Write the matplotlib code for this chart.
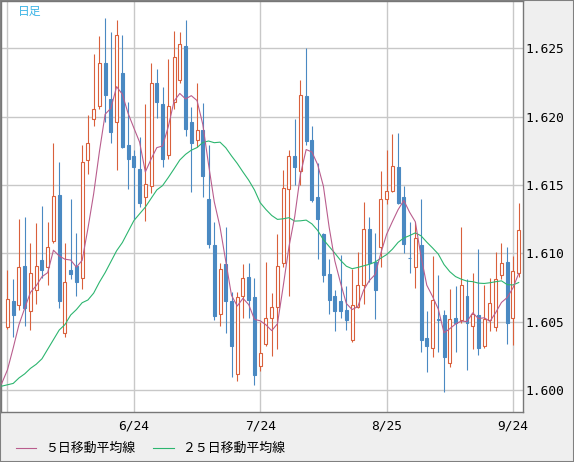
import numpy as np
import matplotlib
matplotlib.use("Agg")
import matplotlib.pyplot as plt
from matplotlib.lines import Line2D
from matplotlib.patches import Rectangle

# daily candles (open, high, low, close)
opens = [
    1.6046, 1.6065, 1.6062, 1.6091, 1.6058, 1.6073, 1.6095, 1.6090, 1.6109, 1.6143,
    1.6042, 1.6088, 1.6091, 1.6082, 1.6168, 1.6198, 1.6208, 1.6239, 1.6213, 1.6196,
    1.6232, 1.6179, 1.6171, 1.6162, 1.6141, 1.6149, 1.6225, 1.6209, 1.6172, 1.6211,
    1.6227, 1.6252, 1.6196, 1.6183, 1.6190, 1.6140, 1.6106, 1.6056, 1.6092, 1.6065,
    1.6012, 1.6069, 1.6083, 1.6068, 1.6018, 1.6034, 1.6053, 1.6061, 1.6093, 1.6147,
    1.6171, 1.6160, 1.6215, 1.6183, 1.6141, 1.6114, 1.6085, 1.6069, 1.6065, 1.6059,
    1.6037, 1.6061, 1.6077, 1.6118, 1.6094, 1.6105, 1.6140, 1.6146, 1.6163, 1.6141,
    1.6097, 1.6090, 1.6106, 1.6038, 1.6031, 1.6052, 1.6055, 1.6020, 1.6053, 1.6051,
    1.6069, 1.6047, 1.6055, 1.6032, 1.6051, 1.6046, 1.6084, 1.6094, 1.6053, 1.6086,
]
highs = [
    1.6088, 1.6081, 1.6125, 1.6127, 1.6108, 1.6122, 1.6135, 1.6123, 1.6181, 1.6167,
    1.6108, 1.6140, 1.6115, 1.6179, 1.6201, 1.6246, 1.6259, 1.6272, 1.6262, 1.6271,
    1.6260, 1.6211, 1.6176, 1.6185, 1.6209, 1.6239, 1.6235, 1.6222, 1.6242, 1.6263,
    1.6262, 1.6271, 1.6207, 1.6225, 1.6210, 1.6179, 1.6123, 1.6093, 1.6119, 1.6072,
    1.6072, 1.6092, 1.6093, 1.6082, 1.6050, 1.6094, 1.6071, 1.6114, 1.6161, 1.6176,
    1.6198, 1.6227, 1.6250, 1.6193, 1.6166, 1.6115, 1.6096, 1.6073, 1.6099, 1.6076,
    1.6089, 1.6101, 1.6138, 1.6127, 1.6115, 1.6160, 1.6176, 1.6187, 1.6188, 1.6149,
    1.6123, 1.6123, 1.6140, 1.6058, 1.6098, 1.6084, 1.6059, 1.6074, 1.6076, 1.6119,
    1.6081, 1.6086, 1.6103, 1.6077, 1.6082, 1.6101, 1.6108, 1.6105, 1.6098, 1.6137,
]
lows = [
    1.6045, 1.6039, 1.6059, 1.6047, 1.6044, 1.6063, 1.6082, 1.6077, 1.6108, 1.6060,
    1.6039, 1.6081, 1.6069, 1.6074, 1.6158, 1.6193, 1.6206, 1.6196, 1.6181, 1.6161,
    1.6177, 1.6147, 1.6125, 1.6134, 1.6124, 1.6144, 1.6199, 1.6163, 1.6169, 1.6206,
    1.6225, 1.6186, 1.6145, 1.6178, 1.6141, 1.6104, 1.6051, 1.6047, 1.6042, 1.6010,
    1.6007, 1.6053, 1.6053, 1.6004, 1.6014, 1.6032, 1.6025, 1.6030, 1.6090, 1.6069,
    1.6150, 1.6150, 1.6179, 1.6138, 1.6096, 1.6079, 1.6056, 1.6043, 1.6053, 1.6044,
    1.6035, 1.6060, 1.6063, 1.6079, 1.6052, 1.6090, 1.6136, 1.6145, 1.6136, 1.6100,
    1.6086, 1.6075, 1.6028, 1.6013, 1.6024, 1.6028, 1.5999, 1.6017, 1.6028, 1.6049,
    1.6015, 1.6030, 1.6026, 1.6031, 1.6043, 1.6043, 1.6081, 1.6034, 1.6033, 1.6083,
]
closes = [
    1.6067, 1.6055, 1.6090, 1.6060, 1.6086, 1.6091, 1.6088, 1.6105, 1.6142, 1.6065,
    1.6079, 1.6085, 1.6079, 1.6167, 1.6181, 1.6206, 1.6239, 1.6216, 1.6189, 1.6260,
    1.6178, 1.6169, 1.6163, 1.6137, 1.6151, 1.6225, 1.6211, 1.6169, 1.6208, 1.6244,
    1.6253, 1.6191, 1.6181, 1.6190, 1.6157, 1.6107, 1.6054, 1.6089, 1.6065, 1.6032,
    1.6068, 1.6082, 1.6066, 1.6011, 1.6027, 1.6053, 1.6061, 1.6091, 1.6148, 1.6171,
    1.6163, 1.6216, 1.6182, 1.6139, 1.6125, 1.6084, 1.6066, 1.6058, 1.6058, 1.6051,
    1.6062, 1.6077, 1.6118, 1.6093, 1.6073, 1.6140, 1.6146, 1.6164, 1.6137, 1.6107,
    1.6097, 1.6111, 1.6037, 1.6032, 1.6066, 1.6051, 1.6024, 1.6052, 1.6049, 1.6077,
    1.6049, 1.6056, 1.6031, 1.6052, 1.6064, 1.6081, 1.6093, 1.6049, 1.6087, 1.6117,
]

# moving average values read off the chart before enough closes are visible
# (start one day before the first candle)
ma5_head = [1.6005, 1.6015, 1.6031, 1.6048, 1.6060]
ma25_head = [
    1.6003, 1.6004, 1.6005, 1.6009, 1.6012, 1.6016, 1.6019, 1.6023, 1.6030, 1.6037,
    1.6044, 1.6048, 1.6055, 1.6059, 1.6064, 1.6066, 1.6071, 1.6079, 1.6086, 1.6094,
    1.6102, 1.6108, 1.6116, 1.6124, 1.6129,
]

date_ticks = [0, 22, 44, 66, 88]
date_labels = ["", "6/24", "7/24", "8/25", "9/24"]
price_ticks = [1.600, 1.605, 1.610, 1.615, 1.620, 1.625]

UP_COL = "#d9603b"
DOWN_COL = "#4a89c2"
MA5_COL = "#b95d8d"
MA25_COL = "#2cb56f"
GRID_COL = "#c8c8c8"
FRAME_COL = "#777777"
PX = 0.72  # one pixel in points at 100 dpi


def moving_average(values, head, n):
    vals = np.asarray(values)
    out = list(head)
    for i in range(n - 1, len(vals)):
        out.append(vals[i - n + 1:i + 1].mean())
    return np.array(out)


o = np.array(opens)
h = np.array(highs)
l = np.array(lows)
c = np.array(closes)
idx = np.arange(len(c))

ma5 = moving_average(c, ma5_head, 5)
ma25 = moving_average(c, ma25_head, 25)
x_ma = np.arange(-1, len(c))

fig = plt.figure(figsize=(5.74, 4.62), dpi=100)
fig.patch.set_facecolor("#efefef")
ax = fig.add_axes([1 / 574, 50 / 462, 522 / 574, 411 / 462])
ax.set_facecolor("white")

ax.set_xlim(-1.13, 89.75)
ax.set_ylim(1.59841, 1.62846)

ax.set_xticks(date_ticks)
ax.set_xticklabels(date_labels)
ax.set_yticks(price_ticks)
ax.set_yticklabels([f"{p:.3f}" for p in price_ticks])
ax.yaxis.tick_right()
ax.tick_params(axis="both", length=0, labelsize=9.3, colors="black")
ax.tick_params(axis="x", pad=5.5)
ax.tick_params(axis="y", pad=1.5)
for lab in ax.get_xticklabels() + ax.get_yticklabels():
    lab.set_family("DejaVu Sans Mono")
ax.grid(color=GRID_COL, linewidth=1.0, zorder=0)
ax.set_axisbelow(True)
for sp in ax.spines.values():
    sp.set_color(FRAME_COL)
    sp.set_linewidth(1.0)

# candles
up = c > o
cols = np.where(up, UP_COL, DOWN_COL)
ax.vlines(idx, l, h, colors=cols, linewidth=PX * 1.1, zorder=2)
body_lo = np.minimum(o, c)
body_h = np.abs(c - o)
ax.bar(idx[up], body_h[up], bottom=body_lo[up], width=0.52,
       facecolor="white", edgecolor=UP_COL, linewidth=PX * 1.1, zorder=3)
ax.bar(idx[~up], body_h[~up], bottom=body_lo[~up], width=0.52,
       facecolor=DOWN_COL, edgecolor=DOWN_COL, linewidth=PX * 1.1, zorder=3)

ax.plot(x_ma, ma25, color=MA25_COL, linewidth=PX * 1.1, zorder=4)
ax.plot(x_ma, ma5, color=MA5_COL, linewidth=PX * 1.1, zorder=5)

ax.text(17 / 522, 1 - 10.5 / 411, "日足", transform=ax.transAxes,
        fontsize=8.5, color="#3cb4e6", va="center", ha="left",
        family=["Noto Sans CJK JP", "DejaVu Sans"])

# legend drawn by hand
fig.add_artist(Line2D([16 / 574, 36 / 574], [1 - 448 / 462] * 2,
                      color=MA5_COL, linewidth=PX * 1.1))
fig.text(45 / 574, 1 - 448 / 462, "５日移動平均線", fontsize=9.3,
         va="center", ha="left", family=["Noto Sans CJK JP", "DejaVu Sans"])
fig.add_artist(Line2D([153 / 574, 174 / 574], [1 - 448 / 462] * 2,
                      color=MA25_COL, linewidth=PX * 1.1))
fig.text(182 / 574, 1 - 448 / 462, "２５日移動平均線", fontsize=9.3,
         va="center", ha="left", family=["Noto Sans CJK JP", "DejaVu Sans"])

fig.add_artist(Rectangle((0, 0), 1, 1, transform=fig.transFigure, fill=False,
                         edgecolor="#808080", linewidth=1.5))

fig.savefig("out.png", dpi=100, facecolor=fig.get_facecolor())
plt.close(fig)
